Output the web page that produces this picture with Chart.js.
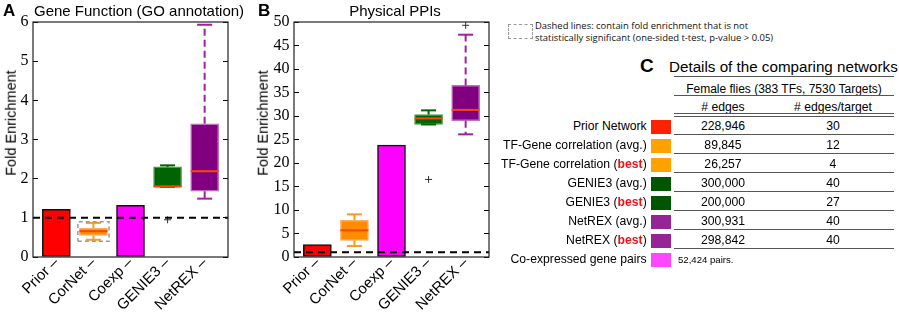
<!DOCTYPE html>
<html>
<head>
<meta charset="utf-8">
<script src="https://cdn.jsdelivr.net/npm/chart.js@4.4.1/dist/chart.umd.min.js"></script>
<style>
  body { margin: 0; width: 899px; height: 313px; position: relative; overflow: hidden; background: #fff;
         font-family: "Liberation Sans", Arial, sans-serif; color: #000; }
  .abs { position: absolute; white-space: nowrap; }
  .panel { position: absolute; top: 0; height: 313px; }
  .ylab { position: absolute; font-size: 14.5px; line-height: 1; transform: translate(-50%, -50%) rotate(-90deg); white-space: nowrap; }
  .hline { position: absolute; left: 674px; width: 220px; height: 1px; background: #555; }
  .best { color: #e8141b; font-weight: bold; }
</style>
</head>
<body>
<div class="panel" style="left:0;width:244px"><canvas id="grafA"></canvas></div>
<div class="panel" style="left:250px;width:255px"><canvas id="grafB"></canvas></div>

<div class="abs" style="left:3px;top:2.3px;font-size:17px;line-height:1;font-weight:bold">A</div>
<div class="abs" style="left:34px;width:200px;text-align:center;top:2.8px;font-size:15px;line-height:1">Gene Function (GO annotation)</div>
<div class="abs" style="left:258px;top:2.3px;font-size:17px;line-height:1;font-weight:bold">B</div>
<div class="abs" style="left:295px;width:200px;text-align:center;top:2.8px;font-size:15px;line-height:1">Physical PPIs</div>
<div class="ylab" style="left:11px;top:122.5px">Fold Enrichment</div>
<div class="ylab" style="left:262.5px;top:123px">Fold Enrichment</div>

<div class="abs" style="left:508px;top:24px;width:23px;height:13px;border:1.5px dashed #999"></div>
<div class="abs" id="nota" style="left:535px;top:19.8px;font-family:'Open Sans',sans-serif;font-size:9.5px;line-height:12px;color:#111;transform-origin:left top">
  Dashed lines: contain fold enrichment that is not<br>statistically significant (one-sided t-test, p-value &gt; 0.05)
</div>

<div class="abs" style="left:640px;top:55.9px;font-size:19px;line-height:1;font-weight:bold">C</div>
<div class="abs" style="left:669px;top:59.1px;font-size:15.2px;line-height:1">Details of the comparing networks</div>
<div class="hline" style="top:76px"></div>
<div class="abs" style="left:674px;width:220px;text-align:center;top:83.2px;font-size:12px;line-height:1">Female flies (383 TFs, 7530 Targets)</div>
<div class="hline" style="top:95px"></div>
<div class="abs" style="left:663px;width:120px;text-align:center;top:100.7px;font-size:12.2px;line-height:1"># edges</div>
<div class="abs" style="left:773px;width:120px;text-align:center;top:100.7px;font-size:12.2px;line-height:1"># edges/target</div>
<div class="hline" style="top:113px"></div>
<div class="hline" style="top:115.5px"></div>
<div id="tabela"></div>

<script>
// categorias dos dois graficos
const categorias = ['Prior', 'CorNet', 'Coexp', 'GENIE3', 'NetREX'];

// A: GO annotation. barras simples e caixas [min, q1, mediana, q3, max]
const goBarras = [1.22, null, 1.32, null, null];
const goCaixas = [null, [0.44, 0.55, 0.66, 0.74, 0.87], null, [1.79, 1.79, 1.80, 2.30, 2.34], [1.49, 1.68, 2.19, 3.40, 5.93]];
const goOutliers = [[], [], [], [0.95], []];
const goNaoSignif = [null, [0.40, 0.90], null, null, null];

// B: Physical PPIs
const ppiBarras = [2.64, null, 23.8, null, null];
const ppiCaixas = [null, [2.34, 3.55, 5.68, 7.8, 9.08], null, [28.2, 28.2, 29.5, 30.3, 31.2], [26.1, 29.0, 31.3, 36.5, 47.3]];
const ppiOutliers = [[], [], [], [16.5], [49.3]];
const ppiNaoSignif = [null, null, null, null, null];

// tabela C
const redes = ['Prior Network', 'TF-Gene correlation', 'TF-Gene correlation', 'GENIE3', 'GENIE3', 'NetREX', 'NetREX', 'Co-expressed gene pairs'];
const qualificador = ['', 'avg.', 'best', 'avg.', 'best', 'avg.', 'best', ''];
const numArestas = ['228,946', '89,845', '26,257', '300,000', '200,000', '300,931', '298,842'];
const arestasPorAlvo = ['30', '12', '4', '40', '27', '40', '40'];
const notaCoexp = '52,424 pairs.';

const corPreench = ['#ff0000', '#ff8c00', '#ff00ff', '#006400', '#800080'];
const corBorda = ['#111', '#ffad5c', '#111', '#4c9a4c', '#bf6fbf'];
const corBigode = [null, '#ff9a1a', null, '#006400', '#a020a0'];
const tracoBigode = [[], [], [], [], [7, 4]];
const corMediana = '#ff4500';
const corTabela = ['#ff2200', '#ffa200', '#ffa200', '#005500', '#005500', '#952595', '#952595', '#ff47ff'];

const X_MIN = -0.63, X_MAX = 4.63;

const moldura = {
  id: 'moldura',
  afterDatasetsDraw(chart) {
    const { ctx, chartArea: a } = chart;
    ctx.save();
    ctx.strokeStyle = '#222';
    ctx.lineWidth = 1.2;
    ctx.strokeRect(a.left, a.top, a.right - a.left, a.bottom - a.top);
    ctx.restore();
  }
};

function eixoY(max, passo, largura, lado) {
  return {
    position: lado, min: 0, max: max,
    ticks: { stepSize: passo, display: lado === 'left', padding: 9.5, color: '#000',
             font: { family: 'Liberation Serif', size: 16 } },
    grid: { drawOnChartArea: false, drawTicks: true, tickLength: -5, color: '#000', lineWidth: 1 },
    border: { display: false },
    afterFit: s => { s.width = largura; }
  };
}

function montarGrafico(id, barras, caixas, outliers, naoSignif, yMax, yPasso, yLargura) {
  const dadosBarra = [], preench = [], borda = [];
  categorias.forEach((c, i) => {
    if (barras[i] != null) dadosBarra.push({ x: i, y: [0, barras[i]] });
    else if (caixas[i]) dadosBarra.push({ x: i, y: [caixas[i][1], caixas[i][3]] });
    else return;
    preench.push(corPreench[i]);
    borda.push(corBorda[i]);
  });

  const datasets = [{
    type: 'bar', data: dadosBarra, backgroundColor: preench, borderColor: borda,
    borderWidth: 1.5, borderSkipped: false, barThickness: 28, order: 10
  }];

  caixas.forEach((b, i) => {
    if (!b) return;
    const bigode = { type: 'line', borderColor: corBigode[i], borderWidth: 2, borderDash: tracoBigode[i], pointRadius: 0, order: 9 };
    datasets.push(Object.assign({ data: [{ x: i, y: b[3] }, { x: i, y: b[4] }] }, bigode));
    datasets.push(Object.assign({ data: [{ x: i, y: b[1] }, { x: i, y: b[0] }] }, bigode));
    datasets.push({ type: 'scatter', data: [{ x: i, y: b[0] }, { x: i, y: b[4] }], pointStyle: 'line',
                    pointRadius: 7.5, pointBorderWidth: 2, pointBorderColor: corBigode[i], order: 8 });
    datasets.push({ type: 'scatter', data: [{ x: i, y: b[2] }], pointStyle: 'line',
                    pointRadius: 14, pointBorderWidth: 2, pointBorderColor: corMediana, order: 7 });
  });

  outliers.forEach((lista, i) => {
    if (!lista.length) return;
    datasets.push({ type: 'scatter', data: lista.map(v => ({ x: i, y: v })), pointStyle: 'cross',
                    pointRadius: 3.5, pointBorderWidth: 1, pointBorderColor: '#333', order: 6 });
  });

  naoSignif.forEach((r, i) => {
    if (!r) return;
    datasets.push({ type: 'line', data: [
      { x: i - 0.42, y: r[0] }, { x: i + 0.42, y: r[0] }, { x: i + 0.42, y: r[1] },
      { x: i - 0.42, y: r[1] }, { x: i - 0.42, y: r[0] }],
      borderColor: '#9a9a9a', borderWidth: 1.5, borderDash: [4, 3], pointRadius: 0, order: 5 });
  });

  // linha de referencia em 1
  datasets.push({ type: 'line', data: [{ x: X_MIN, y: 1 }, { x: X_MAX, y: 1 }], borderColor: '#000',
                  borderWidth: 2, borderDash: [7, 5], pointRadius: 0, order: 0 });

  return new Chart(document.getElementById(id), {
    type: 'bar',
    data: { datasets },
    options: {
      responsive: true, maintainAspectRatio: false, animation: false, events: [],
      layout: { padding: { top: 22, right: 8, left: 0, bottom: 0 } },
      plugins: { legend: { display: false }, tooltip: { enabled: false } },
      scales: {
        x: {
          type: 'linear', min: X_MIN, max: X_MAX, offset: false,
          afterBuildTicks: s => { s.ticks = categorias.map((c, i) => ({ value: i })); },
          ticks: { autoSkip: false, minRotation: 45, maxRotation: 45, padding: -3, color: '#000',
                   font: { family: 'Liberation Sans', size: 15 },
                   callback: v => categorias[v] + ' \u2013' },
          grid: { display: false, drawTicks: false },
          border: { display: false },
          afterFit: s => { s.height = 56; }
        },
        y: eixoY(yMax, yPasso, yLargura, 'left'),
        y2: eixoY(yMax, yPasso, 0, 'right')
      }
    },
    plugins: [moldura]
  });
}

montarGrafico('grafA', goBarras, goCaixas, goOutliers, goNaoSignif, 6, 1, 33);
montarGrafico('grafB', ppiBarras, ppiCaixas, ppiOutliers, ppiNaoSignif, 50, 5, 44);

// tabela C
const tabela = document.getElementById('tabela');
redes.forEach((nome, i) => {
  const base = 120 + 19 * i;
  const rot = document.createElement('div');
  rot.className = 'abs';
  rot.style.cssText = `right:252.3px;top:${base + 0.4}px;font-size:12.2px;line-height:1;text-align:right`;
  rot.innerHTML = qualificador[i] === 'best' ? `${nome} (<span class="best">best</span>)`
                : qualificador[i] ? `${nome} (${qualificador[i]})` : nome;
  tabela.appendChild(rot);

  const cor = document.createElement('div');
  cor.className = 'abs';
  cor.style.cssText = `left:651px;top:${base}px;width:20px;height:14.3px;background:${corTabela[i]}`;
  tabela.appendChild(cor);

  if (i < numArestas.length) {
    [[numArestas[i], 663], [arestasPorAlvo[i], 773]].forEach(([txt, x]) => {
      const c = document.createElement('div');
      c.className = 'abs';
      c.style.cssText = `left:${x}px;width:120px;text-align:center;top:${base + 0.4}px;font-size:12.2px;line-height:1`;
      c.textContent = txt;
      tabela.appendChild(c);
    });
    const l = document.createElement('div');
    l.className = 'hline';
    l.style.top = (134.2 + 19 * i) + 'px';
    tabela.appendChild(l);
  } else {
    const c = document.createElement('div');
    c.className = 'abs';
    c.style.cssText = 'left:678px;top:254.9px;font-size:9.6px;line-height:1';
    c.textContent = notaCoexp;
    tabela.appendChild(c);
  }
});

// ajusta a largura da nota
const nota = document.getElementById('nota');
nota.style.transform = `scaleX(${238 / nota.scrollWidth})`;
</script>
</body>
</html>
